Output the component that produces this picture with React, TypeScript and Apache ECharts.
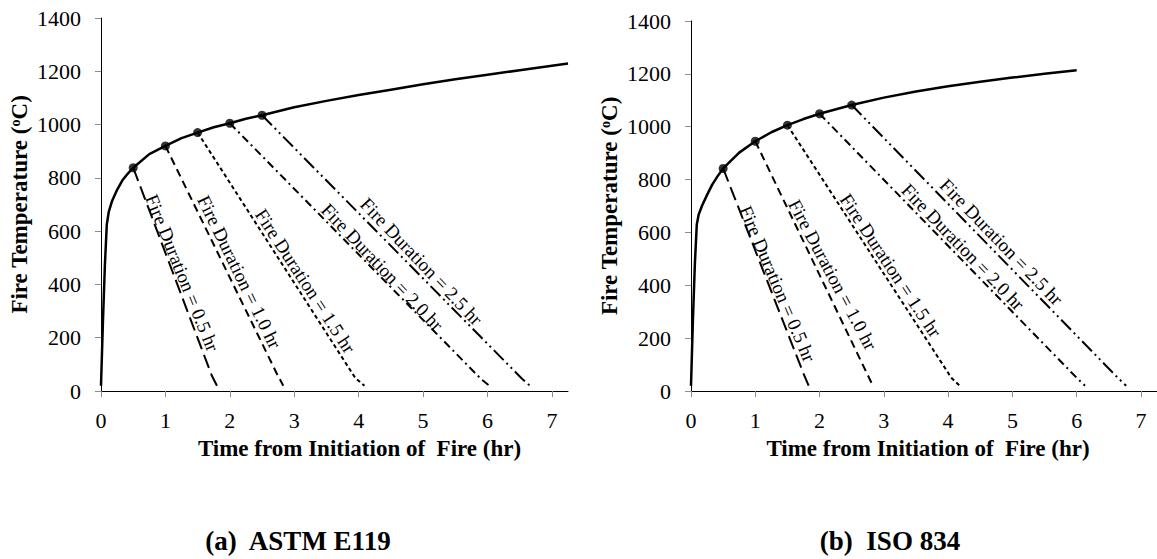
import React, { useEffect, useRef } from "react";
import * as echarts from "echarts";

// ---- data ----
const xTicks = [0, 1, 2, 3, 4, 5, 6, 7];
const xMax = 7.25;
const yMin = 0;
const yMax = 1400;
const yStep = 200;

const durations = [0.5, 1.0, 1.5, 2.0, 2.5];
const durationLabels = durations.map((d) => `Fire Duration = ${d.toFixed(1)} hr`);

// (a) ASTM E119 heating curve
const astmTime = [0, 0.03, 0.06, 0.09, 0.12, 0.17, 0.25, 0.33, 0.42, 0.5, 0.75, 1, 1.25, 1.5, 1.75, 2, 2.25, 2.5, 3, 3.5, 4, 4.5, 5, 5.5, 6, 6.5, 7, 7.25];
const astmTemp = [20, 260, 470, 625, 672, 712, 755, 790, 817, 838, 889, 920, 949, 970, 990, 1005, 1022, 1035, 1065, 1089, 1111, 1131, 1151, 1170, 1187, 1204, 1221, 1229];
const astmPeak = [838, 920, 970, 1005, 1035];
const astmKneeTime = [1.72, 2.74, 3.95, 5.9, 6.54];
const astmKneeTemp = [58, 60, 48, 45, 45];
const astmEndTime = [1.8, 2.83, 4.09, 6.03, 6.66];
const astmLabelTime = [1.262, 2.148, 3.172, 4.368, 4.974];
const astmLabelTemp = [443, 447, 413, 465, 486];

// (b) ISO 834 heating curve
const isoTime = [0, 0.03, 0.06, 0.09, 0.12, 0.17, 0.25, 0.33, 0.42, 0.5, 0.75, 1, 1.25, 1.5, 1.75, 2, 2.5, 3, 3.5, 4, 4.5, 5, 5.5, 6];
const isoTemp = [20, 270, 480, 630, 668, 700, 742, 781, 815, 842, 902, 945, 979, 1006, 1029, 1049, 1082, 1110, 1133, 1153, 1170, 1186, 1200, 1214];
const isoPeak = [842, 945, 1006, 1049, 1082];
const isoKneeTime = [1.76, 2.75, 4.05, 6.0, 6.64];
const isoKneeTemp = [60, 60, 50, 50, 50];
const isoEndTime = [1.83, 2.83, 4.18, 6.13, 6.77];
const isoLabelTime = [1.345, 2.205, 3.106, 4.231, 4.829];
const isoLabelTemp = [406, 440, 475, 545, 564];

const endTemp = 20;

const captions = ["(a)  ASTM E119", "(b)  ISO 834"];
const xTitle = "Time from Initiation of  Fire (hr)";
const yTitle = "Fire Temperature ({sup|o}C)";

// ---- styles ----
const FONT = "Liberation Serif";
const dashes = [[14, 6], [8, 5], [4, 3], [8, 4, 2, 4], [14, 4, 2, 4, 2, 4]];
const astmAngles = [68, 64, 57, 46.5, 46.5];
const isoAngles = [67, 62, 56.5, 46, 46];

const panels = [
  {
    time: astmTime, temp: astmTemp, peak: astmPeak,
    kneeT: astmKneeTime, kneeV: astmKneeTemp, endT: astmEndTime,
    labT: astmLabelTime, labV: astmLabelTemp, angles: astmAngles,
    grid: { left: 101, top: 18, width: 467, height: 373 },
    captionX: 298, xTitlePad: 50,
  },
  {
    time: isoTime, temp: isoTemp, peak: isoPeak,
    kneeT: isoKneeTime, kneeV: isoKneeTemp, endT: isoEndTime,
    labT: isoLabelTime, labV: isoLabelTemp, angles: isoAngles,
    grid: { left: 691, top: 21, width: 466, height: 370 },
    captionX: 890, xTitlePad: 8,
  },
];

function buildOption() {
  const grids: any[] = [];
  const xAxes: any[] = [];
  const yAxes: any[] = [];
  const series: any[] = [];
  panels.forEach((p, gi) => {
    grids.push({ ...p.grid, containLabel: false });
    xAxes.push({
      type: "value", gridIndex: gi, min: 0, max: xMax,
      name: xTitle, nameLocation: "middle", nameGap: 46,
      nameTextStyle: { fontFamily: FONT, fontSize: 23, fontWeight: "bold", color: "#000", padding: [0, 0, 0, p.xTitlePad] },
      axisLine: { show: true, onZero: false, lineStyle: { color: "#000", width: 1 } },
      axisTick: { show: true, customValues: xTicks, length: 6, lineStyle: { color: "#8c8c8c" } },
      axisLabel: { customValues: xTicks, margin: 18, fontFamily: FONT, fontSize: 22, color: "#000", formatter: (v: number) => String(v) },
      splitLine: { show: false },
    });
    yAxes.push({
      type: "value", gridIndex: gi, min: yMin, max: yMax, interval: yStep,
      name: yTitle, nameLocation: "middle", nameGap: 70, nameRotate: 90,
      nameTextStyle: {
        fontFamily: FONT, fontSize: 23, fontWeight: "bold", color: "#000",
        rich: { sup: { fontFamily: FONT, fontSize: 14, fontWeight: "bold", color: "#000", verticalAlign: "top" } },
      },
      axisLine: { show: true, lineStyle: { color: "#000", width: 1 } },
      axisTick: { show: true, length: 6, lineStyle: { color: "#8c8c8c" } },
      axisLabel: { margin: 20, fontFamily: FONT, fontSize: 22, color: "#000", formatter: (v: number) => String(v) },
      splitLine: { show: false },
    });
    series.push({
      type: "line", xAxisIndex: gi, yAxisIndex: gi, showSymbol: false, silent: true,
      data: p.time.map((t, i) => [t, p.temp[i]]),
      lineStyle: { color: "#000", width: 2.5 }, z: 3,
    });
    durations.forEach((d, i) => {
      series.push({
        type: "line", xAxisIndex: gi, yAxisIndex: gi, showSymbol: false, silent: true,
        data: [[d, p.peak[i]], [p.kneeT[i], p.kneeV[i]], [p.endT[i], endTemp]],
        lineStyle: { color: "#000", width: 2, type: dashes[i], cap: "butt" }, z: 2,
      });
    });
    series.push({
      type: "scatter", xAxisIndex: gi, yAxisIndex: gi, silent: true,
      data: durations.map((d, i) => [d, p.peak[i]]),
      symbol: "circle", symbolSize: 9, itemStyle: { color: "#000" }, z: 5,
    });
  });
  return {
    animation: false,
    backgroundColor: "#fff",
    textStyle: { fontFamily: FONT },
    grid: grids, xAxis: xAxes, yAxis: yAxes, series,
  };
}

export default function App() {
  const ref = useRef<HTMLDivElement>(null);
  useEffect(() => {
    const el = ref.current!;
    const chart = echarts.init(el, null, { renderer: "svg", width: 1157, height: 559 });
    chart.setOption(buildOption());
    const graphics: any[] = [];
    panels.forEach((p, gi) => {
      graphics.push({
        type: "text", x: p.captionX, y: 541,
        style: { text: captions[gi], fontFamily: FONT, fontSize: 27, fontWeight: "bold", fill: "#000", align: "center", verticalAlign: "middle" },
      });
      p.labT.forEach((t, i) => {
        const pt = chart.convertToPixel({ gridIndex: gi } as any, [t, p.labV[i]]) as number[];
        graphics.push({
          type: "text", x: pt[0], y: pt[1], rotation: (-p.angles[i] * Math.PI) / 180,
          style: { text: durationLabels[i], fontFamily: FONT, fontSize: 19, fill: "#000", align: "center", verticalAlign: "middle" },
        });
      });
    });
    chart.setOption({ graphic: graphics });
    return () => chart.dispose();
  }, []);
  return (
    <div
      ref={ref}
      style={{ position: "absolute", left: 0, top: 0, width: 1157, height: 559, background: "#fff" }}
    />
  );
}
